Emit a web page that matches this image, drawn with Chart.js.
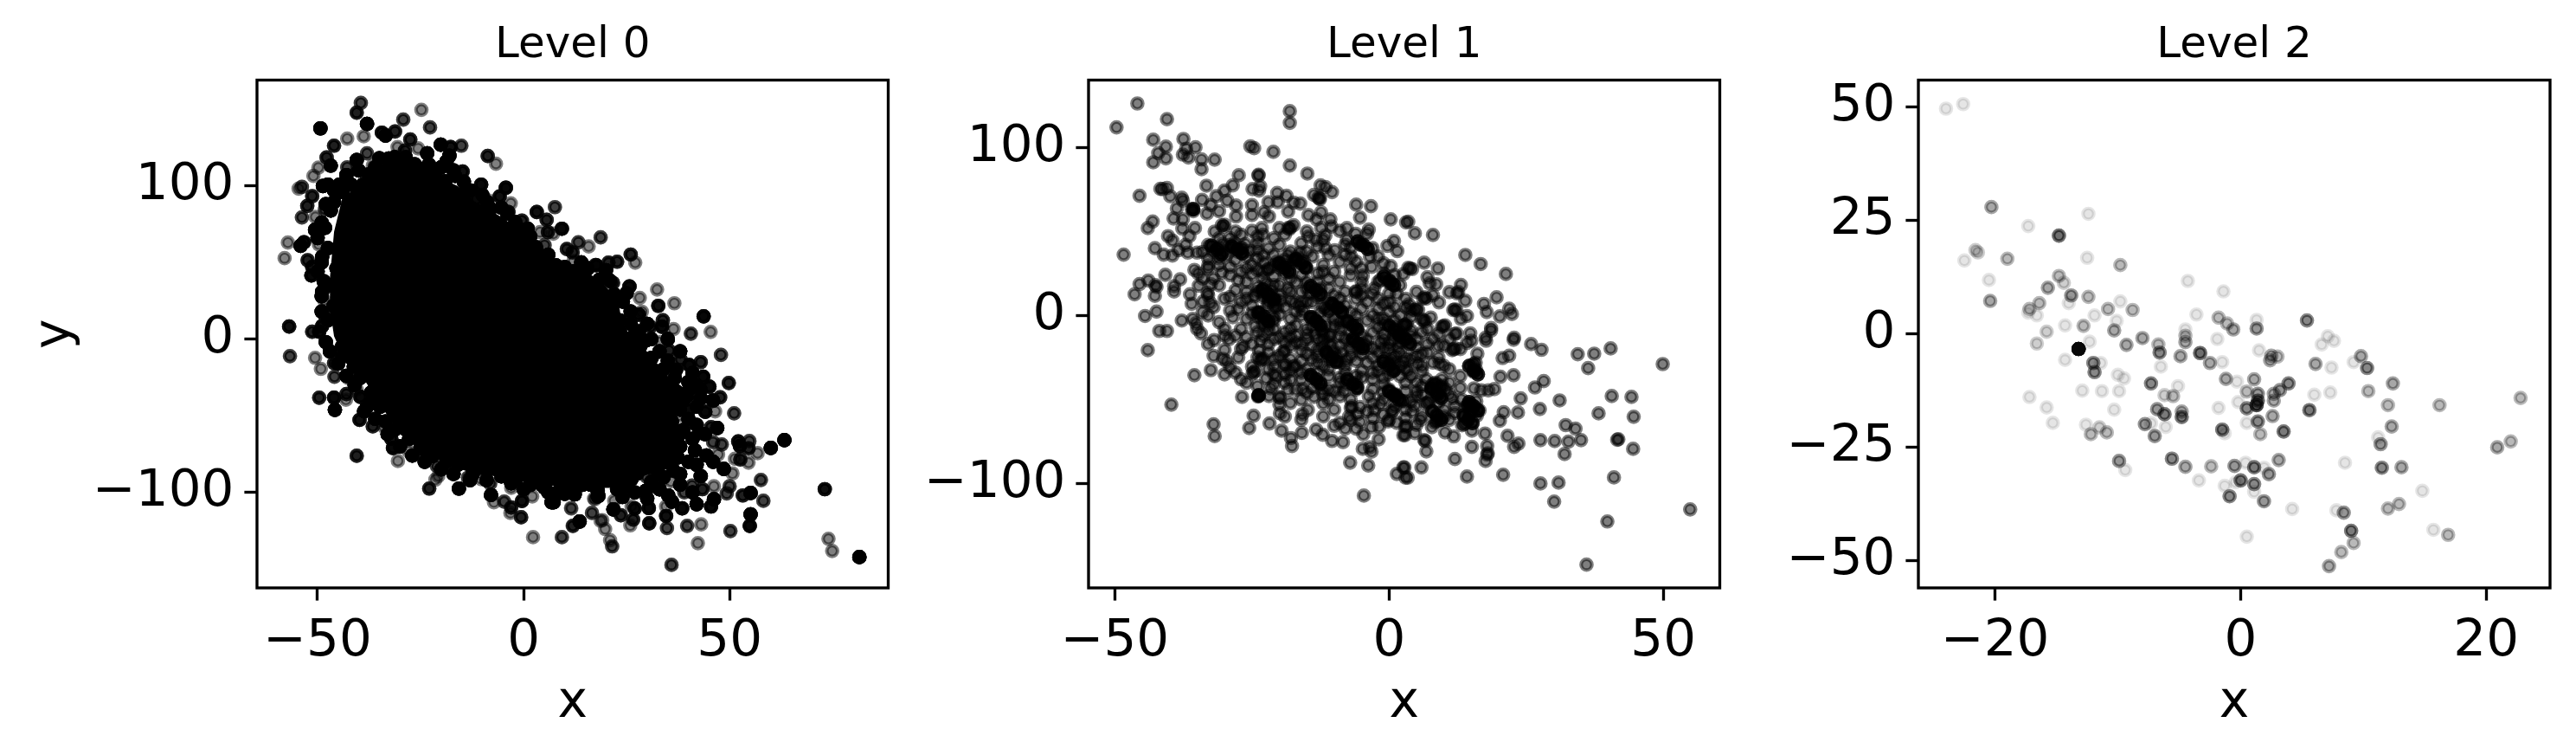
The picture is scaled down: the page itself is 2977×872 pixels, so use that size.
<!DOCTYPE html>
<html>
<head>
<meta charset="utf-8">
<title>Levels</title>
<script src="https://cdn.jsdelivr.net/npm/chart.js@4"></script>
<style>
  html, body { margin: 0; padding: 0; background: #fff; }
  canvas { position: absolute; top: 0; }
</style>
</head>
<body>
<canvas id="c0" width="1060" height="872" style="left:0"></canvas>
<canvas id="c1" width="1000" height="872" style="left:1030px"></canvas>
<canvas id="c2" width="947" height="872" style="left:2030px"></canvas>
<script>
/* values; third number = how many points overlap there */
const titles = ["Level 0", "Level 1", "Level 2"];
const xTicks0 = [-50, 0, 50];
const yTicks0 = [-100, 0, 100];
const xTicks1 = [-50, 0, 50];
const yTicks1 = [-100, 0, 100];
const xTicks2 = [-20, 0, 20];
const yTicks2 = [-50, -25, 0, 25, 50];

/* Level 0 centre is solid black, single points cannot be read there: outline of the black area */
const level0Core = [[-44,92],[-38,104],[-30,113],[-22,107],[-16,100],[-12,90],[-5,79],[2,65],[8,50],[18,40],[23,25],[24,8],[28,-2],[35,-24],[42,-38],[36,-52],[40,-60],[36,-84],[28,-90],[21,-97],[13,-97],[3,-95],[-5,-90],[-12,-88],[-19,-81],[-25,-72],[-30,-62],[-34,-46],[-39,-25],[-44,-10],[-46,2],[-47,20],[-47,40],[-46,70]];

const level0Points = [
[-39.5,154.1,2],[-40.5,147.7,3],[-49.3,137.5,8],[-38,140.4,8],[-29.2,143.2,2],[-24.8,149.6,1],[-22.7,138.1,2],[-42.8,130.8,1],[-38.8,132.3,1],[-34.4,134.7,4],[-33.5,132.8,8],[-31.2,135.5,3],[-27.5,130.2,3],[-46,126.2,3],[-38,121.2,2],[-30.6,125.3,1],[-28.8,123,3],[-25.6,124.4,1],[-20.1,126.8,8],[-15.1,126.2,2],[-17.7,125.3,4],[-23.4,121.2,8],[-18.7,115.9,8],[-18,119.7,8],[-8.7,119.5,3],[-6.7,114.4,1],[-47.8,118.5,3],[-46.8,113.2,8],[-49.8,111.9,1],[-51,106.5,1],[-40.5,116.8,8],[-42.8,112.1,2],[-36.6,113.1,1],[-32.7,117.8,8],[-53.8,99.3,2],[-54.6,98.2,1],[-48.7,99.9,8],[-51.3,93.3,3],[-52.5,86.9,3],[-48.2,84.6,2],[-53.8,79.4,2],[-50.5,79.7,1],[-50.6,71.3,8],[-57.2,63,1],[-58,52.8,1],[-54.1,60.9,8],[-53.3,63.2,5],[-49.7,61.8,1],[-52.4,51.5,3],[-51.5,41.5,5],[-51.3,47.1,4],[-48.5,37.7,8],[-48.9,30.8,8],[-48.4,25.5,1],[-48.4,16.1,3],[-56.9,8.2,4],[-51.3,4.8,3],[-48.9,8.5,5],[-49.6,4.8,5],
[-14.8,109.3,4],[-10.3,100.8,5],[-4.3,98.7,5],[-5.8,93.1,4],[-11.4,91.4,5],[-8.6,90.5,1],[-3.1,88.6,1],[-3.7,82.9,4],[3.2,82.9,4],[7.6,86.1,2],[5.6,77.8,3],[9.3,72,5],[-0.4,77.3,3],[4,69.8,1],[5.9,69.8,3],[7.2,68.8,1],[5.1,61.3,2],[10.5,58.8,3],[13.3,63.2,2],[15.8,60.5,1],[11.9,56.6,3],[12.1,50.9,1],[18.7,66.4,2],[17.7,48.1,3],
[27.1,49.9,1],[26,55.2,3],[22.7,50.5,3],[20.6,49.9,3],[17.5,48.4,3],[21.7,36.7,3],[19.9,36.7,1],[25.7,34.3,5],[32.4,32.4,1],[28.2,26.9,1],[32.7,21.7,4],[36.6,23.4,1],[43.7,14.9,5],[28.7,17.9,1],[28,16,5],[33.8,12.3,3],[36.4,6.6,1],[40.6,3.6,2],[45.4,4.7,1],[33.6,8.1,5],[30.8,8.1,3],[33.2,-1.9,1],[35.3,-7.5,3],[47.9,-10.3,2],[38.1,-13.2,3],[40.2,-16.9,5],[43,-15,3],[43.6,-24.5,5],[45.1,-31,5],[49.8,-28.6,3],[47.7,-38,3],[43,-38.6,8],[44.1,-47.4,5],[46.5,-47.1,1],[51.1,-48.4,2],[45.5,-57.4,3],[42.7,-61.2,8],[37.6,-49.9,1],[37.4,-42.4,8],[40.2,-46.1,5],[46,-67.2,2],[48.1,-68.7,2],[52.1,-66.8,4],[54.8,-66.5,2],[52.5,-69.7,5],[54.6,-71.2,3],[56.8,-74.4,1],[60,-71,8],[63.3,-65.9,8],[51.3,-78.1,1],[52.6,-78.5,3],[54.6,-80.6,1],[41.6,-72.5,8],[44.4,-75.9,8],[47.2,-75.3,1],[48.6,-84.7,8],[50.7,-87.6,1],[43,-89.4,8],[57.6,-91.9,2],[50,-96,2],[46.2,-96,1],[40.9,-95.6,2],[39,-100,2],[43.4,-97.9,3],[35.1,-102,8],[33.2,-93.2,1],[35.8,-92.8,1],[29.9,-89.8,2],[53.2,-102,3],[55.1,-100.4,8],[58.2,-105.5,2],[73.1,-97.9,4],[49.3,-100.7,2],[46.2,-104.5,8],[45.5,-109.2,5],[42,-107.7,8],[38.5,-110.4,5],[34.6,-115.4,4],[34.8,-123.3,2],[30.5,-120.1,4],[39.7,-121.8,2],[43.1,-120.9,1],[50.2,-125.2,2],[55.1,-114.3,8],[54.9,-121.8,5],[42.3,-133.1,1],[35.9,-147.3,2],[74,-130.3,1],[74.9,-138.2,1],[81.5,-142.2,8],[30.4,-110.2,5],[27,-110.5,4],[26.2,-109,1],[23.6,-114.9,3],[21.8,-111.1,8],[26.6,-117.7,3],[25.9,-121.5,1],[19.1,-118.1,1],[19.8,-123.9,1],[21,-131.2,1],[21.5,-135.2,2],[16.6,-113.4,1],[13.6,-119,4],[12,-121.8,2],[9.3,-129.2,1],[11.5,-110.2,1],[12.2,-100.7,5],[18.2,-102.2,5],[17.1,-104,1],[22,-105.5,1],[22.7,-97.9,8],[29.7,-98.9,8],[34.6,-109.2,1],[36.4,-85.7,8],[32.5,-85.7,8],[37.4,-77.2,8],[26.2,-91.3,8],[14.3,-94.1,8],[38.1,-61.2,8],[7.3,-106.4,8],[8.7,-98.9,8],
[-56.7,-11.1,2],[-50.6,-12.2,1],[-49.2,-19.4,1],[-45.9,-24.5,2],[-46,-15.6,3],[-42.6,-25.4,1],[-41.2,-17.9,8],[-49.6,-38.2,3],[-46,-38.2,5],[-45.8,-46.1,8],[-43,-35.8,3],[-43.1,-39.5,1],[-40.5,-32.9,1],[-39.6,-37.7,5],[-39.8,-52.7,4],[-38.7,-47.1,8],[-36.6,-56.9,3],[-33.8,-57.4,1],[-32.1,-65,4],[-31.7,-71,5],[-30.5,-79.5,1],[-27.9,-73.1,1],[-40.5,-76.1,3],[-22.9,-97.5,3],[-15.7,-97.5,8],[-21,-82.9,2],[-20.7,-89.4,1],[-21.4,-91.7,1],[-24,-72.5,8],[-13.5,-90.4,2],[-10.3,-91.3,1],[-7.9,-101.7,8],[-8.1,-94.2,2],[-7.2,-106.4,1],[-4.7,-106,2],[-3,-109.8,3],[-3.2,-113.4,1],[-0.4,-105.6,4],[-0.6,-116.2,3],[-3,-97,1],[2.1,-102.6,1],[2.3,-129.2,1],[9.3,-129.2,1],[6.8,-106.4,8],[8.6,-99.8,8],[12.4,-101.3,8],[11.6,-110.5,1],[16.6,-113.4,1],[13.6,-119,5],[11.9,-121.8,1],[18,-102.6,8],[12.1,-95,1],[17.3,-104.5,1],[18.7,-118.6,1],[14.2,-95.1,8],[4.4,-95.1,8],
/* black fringe where the mass breaks up into single dots */
[-47.5,100.8,8],[-44.7,100.8,8],[-41.9,100.8,8],[-39,100.8,8],[-37.6,107.4,8],[-34.8,107.4,8],[-32,107.4,8],[-28.5,107.4,8],[-25,107.4,8],[-21.5,107.4,8],[-32,114,8],[-29.2,114,8],[-26.4,114,8],[-23,114,8],[-31.3,118.7,8],[-28.6,118.7,8],[-16.6,106.5,8],[-14.5,102.7,8],[-12.8,97,8],[-8.9,89.5,8],[-5.4,85.8,8],[-2,76.3,8],[1.6,66.9,8],[4.4,53.7,8],[7.9,48.1,8],[12.1,44.3,8],[15.6,46.2,8],[18.4,38.7,8],[-46.8,83.9,8],[-48.2,72.6,8],[-47.5,59.4,8],[-48.9,53.7,8],[-45.4,46.2,8],[-46.8,34.9,8],[-46.1,21.7,8],[-47.5,12.3,8],[-46,89.5,8],
[-44,-4.7,8],[-41.9,-12.2,8],[-44,-11.3,8],[-39.7,-25.4,8],[-37,-34.8,8],[-38,-44.2,8],[-34.8,-44.2,8],[-33.5,-53.7,8],[-31.4,-59.3,8],[-27.8,-65,8],[-25,-70.6,8],[-22.2,-76.3,8],[-18.7,-80,8],[-15.9,-81.9,8],[-12.4,-88.5,8],[-8.9,-83.8,8],[-5.4,-89.5,8],[-1.9,-91.3,8],[1.6,-95.1,8],[5.1,-97,8],[9.3,-93.2,8],[14.2,-91.3,8],[17,-85.7,8],
[15,44.3,8],[12.2,40.5,8],[16.4,34.9,8],[22,29.2,8],[24.1,24.5,8],[23.4,12.2,8],[23.4,4.7,8],[26.9,2.8,8],[29.7,-0.9,8],[28.3,-4.7,8],[31.1,-12.2,8],[33.9,-19.8,8],[36.7,-25.4,8],[40.2,-33,8],[35.3,-31,8],[38.1,-41.4,8],[35.3,-48,8],[36,-53.7,8],[38.8,-59.3,8],[36.7,-66.8,8],[33.9,-72.5,8],[31.8,-81.9,8],[27.6,-87.6,8],[24.1,-97,8],[20.6,-91.3,8],[16.4,-95.1,8],[11.5,-98.9,8],[15,-89.4,8],
[-43,107,8],[-40,110,8],[-36,112,8],[-33,111,8],[-35,118,8],[-27,112,8],[-24,111,8],[-20,112,8],[-17,110,8],[-19,103,8],[-14,97,8],[-10,94,8],[-8,85,8],[-4,82,8],[-1,72,8],[1,72,8],[3,60,8],[6,55,8],[10,47,8],[14,50,8],[20,45,8],[21,38,8],[25,30,8],[26,18,8],[26,10,8],[28,5,8],[31,0,8],[33,-8,8],[35,-14,8],[37,-20,8],[40,-28,8],[43,-33,8],[42,-44,8],[38,-46,8],[40,-52,8],[42,-56,8],[41,-65,8],[38,-70,8],[37,-76,8],[40,-80,8],[38,-88,8],[34,-90,8],[31,-93,8],[25,-93,8],[18,-99,8],[10,-101,8],[6,-100,8],[0,-98,8],[-3,-94,8],[-9,-92,8],[-13,-92,8],[-17,-88,8],[-20,-85,8],[-24,-80,8],[-27,-76,8],[-30,-70,8],[-33,-62,8],[-36,-52,8],[-37,-41,8],[-41,-30,8],[-43,-24,8],[-45,-16,8],[-47,-8,8],[-48,-2,8],[-49,18,8],[-49,28,8],[-50,44,8],[-49,50,8],[-50,66,8],[-49,76,8],[-48,88,8],[-46,97,8],[-44,96,8],
[38,-95,8],[42,-82,8],[46,-80,8],[44,-62,8],[47,-58,8],[41,-100,8],[33,-98,8],[30,-104,8],[36,-106,8],[24,-103,8],[27,-100,8],[30,10,8],[35,0,8],[38,-8,8],[41,-22,8],[46,-40,8],[42,-30,8]
];

const level1Points = [
[-45.9,126.1],[-49.7,111.9],[-40.5,116.8],[-18.1,121.5],[-18.1,114.6],[-43,104.5],[-37.5,105],[-40.7,100.4],[-35.3,100],[-42.1,96.6],[-43,91.1],[-40.7,93.5],[-37.6,95.7],[-36.6,94],[-37,99.2],[-34.2,92.8],[-31.8,92.7],[-34.2,87],[-25.3,100.6],[-24.6,99.5],[-21.1,97.3],[-18.1,89.2],[-14.9,84.4],[-27.4,83.4],[-23.8,83.7],[-23.8,83.2],[-33.3,77.2],[-28.5,77.4],[-30,74.3],[-24.9,75.2],[-23.5,76.9],[-23.7,74.3],[-41.7,75.3],[-40.5,75.8],[-41.3,75.2],[-45.5,71.2],[-39.9,70.9],[-37.8,70],[-37.6,68.3],[-34.1,68.8],[-31.5,70.9],[-36,63.2],[-35.7,62],[-32.5,65.7],[-33.2,60.6],[-31,62],[-29.5,68.3],[-27.9,65.4],[-38.7,63.7],[-39.3,57.7],[-37.6,57.2],[-43.1,55.9],[-44,52],[-35.4,52],[-37.7,51.7],[-40.3,47.2],[-39.5,44.6],[-36.4,47.2],[-37.1,42],[-38.4,38.8],[-42.7,40],[-41.1,36.2],[-39.5,35.7],[-36.7,37.4],[-35,37.4],[-34,37.8],[-48.4,36.2],[-35.5,27.1],[-33,29.7],[-40.8,24.2],[-43.9,20.8],[-45.5,18.7],[-42.6,18],[-42.4,17],[-38.1,21.5],[-39.2,17.4],[-39.2,14.3],[-46.4,12.6],[-42.7,11.7],[-36.3,12.6],[-34.7,17.7],[-33.1,13.4],[-33.9,8.3],[-32.6,7.4],[-44.5,-0.3],[-42.4,2.3],[-37.8,-3],[-35.8,-2],[-35.2,-4.6],[-41.9,-9.2],[-40.5,-9.2],
[-20.4,72.9],[-18.7,71.2],[-20.3,67.4],[-22,67.4],[-17.4,67.1],[-16.2,66.6],[-18.4,61.8],[-25,65.7],[-12.5,77.4],[-11.6,76.4],[-10.4,73.4],[-13.7,71.7],[-12.9,70],[-12.7,69.6],[-12.6,69.2],[-6,65.9],[-3.3,65],[-5.3,58.2],[-12.4,61.4],[0.3,57.2],[3.1,55.4],[-22.8,61.4],[-21.9,58.9],[-25,59.7],[-10.7,57.2],[-14.7,59.7],[-13.2,57.2],[-7.7,52],[-9,50.3],[-3.7,51.1],[-4,48.6],[-6.1,48.6],[-7.7,45.1],[-5.2,42.2],[-5.1,41.8],[-0.3,41.4],[0.9,44.3],[1.5,38.3],[-10.5,52.9],[-12.4,52],[-11.6,47.7],[-14.7,46.9],[-13.4,45.1],[-11.6,40],[-9.9,38.8],[-6.9,34.9],[-3.5,34.9],[-3.2,28.9],[0.3,29.4],[-4.8,23.7],[2.6,24.6],[-1.6,21.1],[0,19.4],[0.3,19],[1.4,12.9],[-2.7,16],[-6.1,14.3],[3.1,4.8],[-30.5,53.7],[-30.2,52.8],[-30,54],[-31.8,49.9],[-18.4,52],[-18.2,51.4],[-18,52.4],[-17.4,53.7],[-20,52],[-27.9,58.9],[-25,50.3],[-23.2,52],
[-44,-20.6],[-35.5,-35.5],[-32.5,-32.5],[-39.7,-53],[-32,-64.7],[-31.8,-71.7],[-24.7,-59.6],[-25.5,-66.9],[-21.8,-64.2],[-19.6,-68.5],[-26.8,-48.4],[-23.8,-47.9],[-23.7,-47.5],[-23.9,-48.2],[-19.9,-48.9],[-20,-48.5],[-21.9,-47.9],[-21.6,-43.3],[-19.9,-58.2],[-19,-60.1],[-15.8,-58.7],[-14.8,-56.1],[-17.9,-72.9],[-17.7,-77.6],[-15.9,-69.8],[-13.3,-67.8],[-12.1,-70.9],[-10.4,-74.6],[-8.4,-75.3],[-10,-65.6],[-9,-63.8],[-8,-67.3],[-12,-52.2],[-13.7,-48.4],[-7.3,-60.1],[-6.8,-54.1],[-6,-67.3],[-5.3,-63.3],[-4.7,-70.7],[-3.2,-66.4],[-1.8,-66.1],[-1.9,-73.6],[-3.2,-81],[-3.5,-78.4],[-4.8,-79.3],[-7.1,-87.5],[-3.8,-89.2],[-4.6,-107.1],[1.4,-94.2],[2.6,-90.4],[3,-96.4],[-0.2,-63],[1.4,-63.8],[2.9,-66.1],[2.6,-71.2],[-2.7,-56.1],[-1.6,-52.7],[0.5,-57],[0.7,-56.5],[-5.3,-54.4],[-5.8,-58.7],[0.9,-47.2],[1.1,-46.8],[0.7,-47.5],[1.3,-47.6],[2.3,-51],[-1.1,-45.8],[-3.7,-47.9],[-8.2,-45],[-9.9,-45],[-12.1,-44.1],[-15.8,-43.8],[-18.4,-44.1],[-19.3,-21.5],[-19,-28.7],[-30,-20.5],[-30.3,-25.8],[-29.6,-27.3],[-27.5,-24.9],[-31.9,-14.6],[-34.3,-10.7],[-29.2,-14.1],[-26.6,-18.4],[-23.4,-15],[-24.7,-33.8],[-24.4,-33],[-24.9,-34.5],[-22.4,-37.3],[-20.5,-36.4],[-23.2,-26.1],[-23,-25.6],[-23.5,-26.8],[-25,-30.4],[-23.7,-21],[-17.4,-30.4],[-17.1,-30],
[3.5,55.8],[4.7,48.9],[8,47.9],[13.9,36],[16.7,30.6],[21.3,24.7],[8.9,28],[6.4,31.4],[3.8,28],[3.5,28.4],[4.2,27.6],[8.6,18.6],[7.4,19.1],[7,22.8],[13.1,18.2],[11,13.9],[12.6,13.9],[12.4,13.2],[13.9,8.8],[9.1,7.8],[6.5,10.8],[6.2,10.2],[6.8,10],[17.3,6.9],[19.6,10.8],[17.8,2.1],[20.2,-0.5],[21.9,4],[22.4,0.9],[14.2,-0.3],[12,3.6],[11.7,3.2],[12.3,3],[13.1,-2],[5,4],[5.3,3.4],[4.7,3.2],[3.6,6.6],[6.3,-2.9],[6,-2.3],[6.6,-3.4],[9.9,-6.3],[9.6,-6.8],[10.2,-5.9],[12.3,-10.6],[12,-11],[14.8,-10.6],[18.6,-7.5],[7.6,-1.2],[2.9,-5.5],[2.6,-6],[3.2,-5],[22.8,-13.2],[17.6,-13.2],
[18.6,-9],[22.7,-14.4],[17.7,-15],[25.9,-17],[27.8,-20.4],[34.4,-23],[37.4,-22.7],[40.4,-19.6],[36.3,-31.3],[49.9,-28.9],[20.7,-25.3],[21.9,-23.9],[20.3,-36.4],[22.7,-35.5],[28.2,-39],[26.6,-42.8],[24,-49.3],[31.1,-50.5],[27.5,-55.6],[23.5,-57.7],[20.9,-57.5],[20.2,-62.6],[40.6,-47.9],[44.2,-48.4],[38.2,-58.2],[44.6,-60.2],[32.2,-65.2],[34,-67.3],[35,-74.1],[32.7,-75],[30.2,-74.7],[27.6,-74.1],[32,-82.4],[41.8,-73.6],[41.6,-73.9],[44.5,-79.3],[21.6,-71.6],[23.6,-76.2],[22.8,-78.1],[17.5,-70.2],[15.1,-78.1],[17.9,-77.6],[17.9,-82.7],[18,-82],[17.6,-86.5],[12,-85.3],[6.8,-80.8],[6.4,-74.1],[6.6,-74.6],[5.9,-90.4],[2.8,-90.4],[3.4,-96.4],[14.2,-95.8],[20.8,-94.7],[27.6,-99.9],[30.9,-99.4],[30.1,-110.7],[41,-96.3],[39.8,-122.5],[54.9,-115.3],[36,-148.2],[15,-15],[16.1,-22.7],[15.5,-28.7],[15.2,-29.4],[15.8,-28],[15.7,-33],[15.4,-33.6],[15.9,-32.4],[14.2,-16.3],[11.8,-20.1],[11.5,-20.6],[12.1,-19.6],[6,-33],[5,-39.8],[8.1,-40.7],[7.8,-41.4],[8.4,-40],[9.4,-42.4],[9.1,-43],[9.7,-41.8],[8.9,-46.7],[8.6,-47.4],[9.2,-46],[7,-51.8],[6.7,-52.4],[7.3,-51.2],[11.5,-49.3],[15.5,-43.3],[16.8,-44.5],[19.2,-43.8],[18.1,-44.5],[14.4,-53.6],[14.1,-54.2],[14.7,-53],[14.4,-52.8],[14.9,-57.8],[14.6,-58.4],[15.2,-57.2],[16,-59.6],[13.6,-64.7],[13.3,-65.3],[13.9,-64.1],[8.6,-63],[8.3,-63.6],[8.9,-62.4],[7.8,-66.4],[5.7,-62.1],[4.2,-57],[4.7,-53.6],[10.2,-69.5],[11.8,-71.9],[15.1,-68.5],[4.7,-69.9],[2.9,-71.2],[3.1,-65.6],[2.8,-51],[5.2,-28.7],[9.2,-28.7],
[-29,42],[-27,40],[-30,38],[-26,35],[-28,33],[-31,30],[-24,43],[-22,40],[-23,36],[-20,42],[-18,38],[-25,30],[-22,28],[-27,26],[-20,30],[-17,33],[-19,25],[-23,22],[-26,20],[-29,24],[-31,18],[-28,15],[-24,14],[-21,18],[-20,12],[-22,8],[-25,6],[-19,5],[-17,20],[-15,28],[-14,35],[-12,30],[-16,14],[-13,20],[-10,26],[-9,32],[-7,28],[-11,16],[-14,8],[-18,-2],[-21,-3],[-23,-5],[-26,-2],[-29,3],[-32,5],[-31,-4],[-33,12],[-30,10],[-27,8],[-16,0],[-12,5],[-9,10],[-6,14],[-4,8],[-2,10],[-7,2],[-10,-2],[-13,-4],[-15,-8],[-17,-12],[-19,-10],[-21,-14],[-12,-10],[-9,-8],[-6,-5],[-3,0],[0,2],[1,-3],[3,-6],[-2,-7],[-5,-12],[-8,-14],[-11,-16],[-14,-18],[-16,-21],[-13,-24],[-10,-22],[-7,-20],[-4,-18],[-1,-14],[1,-11],[3,-15],[5,-19],[2,-22],[0,-20],[-3,-25],[-6,-27],[-9,-28],[-12,-30],[-15,-32],[-14,-26],[-11,-36],[-8,-34],[-5,-33],[-2,-30],[1,-28],[3,-32],[4,-26],[0,-35],[-3,-38],[-6,-40],[-16,-38],[-18,-33],[-20,-24],[-22,-32],
[-22,12.5],[-21.5,15],[-23,11],[-20.8,10],[-24,17],[-22.4,19],[-21,5],[-23.5,2],[-12.3,-8.8],[-11.5,-6],[-13.4,-11],[-14,-6.5],[-10.7,-12],[-9.4,-24.8],[-8.6,-22],[-10.6,-27],[-11.7,-21],[-7.8,-26.5],[-4.7,-16.8],[-4,-14.5],[-5.6,-19],[-3,-19.5],[-6.3,-15],[0,-17],[0.8,-14.5],[-0.9,-19.5],[1.6,-19],[-1.6,-16],[2,-30],[2.8,-27.5],[1,-32],[3.5,-33],[0.5,-26],[8.7,-40.8],[9.6,-38],[7.8,-43],[10.3,-44],[6.8,-38],[15.3,-54],[15.9,-51],[14.6,-56],[13.2,-50],[16.5,-56.5],
[-16,-17],[-18,-18],[-13,-14],[-16,-27],[-19,-16],[-22,-22],[-24,-10],[-27,-8],[-28,-12],[-26,-13],[-21,-8],[-17,-6],[-14,-1],[-11,3],[-8,6],[-5,4],[-2,4],[-16,8],[-18,14],[-26,14],[-29,11],[-32,22],[-33,28],[-29,46],[-27,48],[-24,47],[-21,46],[-16,43],[-13,25],[-9,20],[-5,20],[-1,25],[-2,35],[-7,40],[2,18],[5,14],[8,12],[3,10],[0,8],[-1,-2],[6,-10],[8,-14],[5,-14],[9,-18],[11,-14],[13,-20],[4,-9],[8,-28],[11,-32],[13,-36],[11,-40],[13,-43],[5,-45],[3,-40],[-1,-41],[-9,-40],[-13,-40],[-15,-46],[-19,-40],[-21,-30],[-26,-40],[-28,-34],[-30,-35],[-18,-52],[-12,-60],[-10,-56],[-7,-50],[-3,-52],[-1,-59],[3,-56],[6,-60],[10,-56],[11,-62],[-16,-62],[-20,-53],
/* dense centre, estimated from the darkest clumps */
[-26.8,40],[-26.2,42.5],[-27.6,38],[-25.4,38.4],[-28.2,43],[-31,40],[-30.4,42.6],[-32,37.6],[-29.6,36],[-33,34],[-21,29.7],[-20.4,32],[-22,27.4],[-19.6,27.6],[-22.8,31.5],[-16.8,34.9],[-16.2,37.5],[-17.6,32.6],[-15.5,32],[-18.5,36],[-22.6,12.6],[-22,10.2],[-23.4,14.6],[-24.6,11.5],[-21,7.4],[-20.4,4.8],[-22.2,5.4],[-19.6,9],[-16.3,5.7],[-15.7,3],[-17.2,7.6],[-15,8],[-11.6,4],[-11,1.4],[-12.6,1.6],[-10.2,6],[-22.6,-2.9],[-22,-5.6],[-23.8,-1],[-21,-1],[-24.4,-6.5],
[-34,22],[-32.5,18.5],[-34.8,25],[-30.5,25.5],[-27.5,21],[-25,24.5],[-24,27],[-21,23],[-18,22],[-15,20],[-12.5,16],[-14.5,13],[-18.5,16],[-26,10],[-27.5,4],[-28.5,-1],[-30,-8],[-25,1],[-20,0.5],[-17,2],[-13.5,-2],[-12,-14],[-10,-6],[-8,-4],[-6,-8],[-4,-3],[-2,-2],[-1,-5],[1,-7],[2,-10],[-3,-10],[-7,-10],[-9,-12],[-10.5,-18],[-13,-20.5],[-15,-14],[-18,-8],[-20,-13],[-23,-12],[-25,-17],[-22,-17],[-19,-21],[-18,-26],[-13,-28],[-11,-24],[-7,-24],[-5,-23],[-2,-22],[-1,-26],[-4,-28],[-8,-30],[-11,-32],[-13,-34],[-16,-34],[-19,-30],[-21,-35],[-18,-38],[-14,-37],[-9,-37],[-6,-36],[-3,-34],[-1,-37],[2,-36],[4,-36],[6,-30],[5,-24],[7,-22],[9,-25],[10,-30],[6,-42],[5,-48],[3,-45],[0,-44],[-3,-44],[-6,-44],[-9,-48],[-12,-47],[-16,-50],[-7,-55],[-4,-57],[-1,-50],[1,-54],[4,-51],[6,-47],[9,-52],[11,-47],[12,-54],[12,-58],[10,-60],[5,-65],[3,-61],[0,-62],[-3,-61],[-7,-62],[-11,-50],
[-6,10],[-8,14],[-10,12],[-5,16],[-3,13],[0,13],[-1,7],[1,5],[4,3],[4,-1],[2,0],[-1,-11],[2,-16],[4,-12],[7,-8],[9,-11],[10,-18],[7,-17],[6,-23],[3,-25],[1,-24],[0,-28],[-7,-16],[-9,-18],[-2,-33],[-5,-37],[-8,-41],[-11,-44],[-14,-43],[-17,-44],[-21,-41],[-24,-42],[-27,-38],[-29,-31],[-32,-24],[-33,-17],[-35,-8],[-33,0],[-36,7],[-34,2],[-30,-12],[-27,-20],[-24,-25],[-21,-26],[-19,-35],[-15,-23],[-12,-18],[-17,-16],[-15,-11],[-11,-12],[-9,-4],[-6,0],[-11,8],[-13,11],[-15,16],[-18,9],[-24,2],[-22,-9],[-18,-13],[-20,18],[-23,26],[-26,28],[-29,29],[-31,34],[-24,34],[-21,36],[-19,33],[-15,38],[-13,41],[-11,36],[-8,36],[-6,32],[-5,28],[-7,24],[-11,22],[-12,26],[-16,24],[-18,29],[-24,39],[-33,42],[-31,46],[-28,50],[-23,48],[-19,48],[-15,50],[-12,45],[-8,42],[-3,40],[-1,31],[1,24],[-2,20],[-5,12],[-9,4],
/* black clumps, several points on top of each other */
[-27.6,39.2,3],[-26.8,37,3],[-28.6,41,3],[-31.4,39.2,3],[-30.6,36.5,3],[-32.4,41.5,3],[-22.8,-0.8,3],[-22,-3.5,3],[-23.8,1.5,3],[-19,28.5,3],[-18.2,26,3],[-20,31,3],[-16,31,3],[-15.2,28.5,3],[-17,33.5,3],[-13.3,-3.5,3],[-12.5,-6,3],[-14.3,-1,3],[-10.4,-24.8,3],[-9.6,-27.5,3],[-11.4,-22,3],[-5.6,-16.8,3],[-4.8,-19.5,3],[-6.6,-14,3],[-4.7,41.9,3],[-3.9,39.5,3],[-5.7,44,3],[0.1,20.5,3],[0.9,18,3],[-0.9,23,3],[1,-8.8,3],[1.8,-11.5,3],[0,-6,3],[3,-14,3],[3.8,-17,3],[2,-12,3],[0,-30,3],[0.8,-33,3],[-1,-27.5,3],[1,-47.5,3],[1.8,-50,3],[0,-45,3],[8.7,-46,3],[9.5,-49,3],[7.7,-43.5,3],[15.4,-32.8,3],[14.6,-30,3],[16.2,-35,3],[15.4,-54,3],[14.6,-51.5,3],[16.2,-56.5,3],[14.4,-62,3],[13.6,-59.5,3],[15.2,-64,3],[8.7,-59.5,3],[7.9,-57,3],[9.5,-62,3],[-23.8,-47.5,3],[-35.7,63.2,3],[-13.3,-38,3],[-12.5,-40.5,3],[-14.3,-35.5,3],[-6.6,-40.8,3],[-5.8,-43,3],[-7.6,-38,3],[-13.3,15,3],[-12.5,12.5,3],[-14.3,17.5,3],[-9.4,4.5,3],[-8.6,2,3],[-10.4,7,3],[-6.6,-6,3],[-5.8,-8.5,3],[-7.6,-3.5,3],[-22,12.5,3],[-21,9.5,3],[-23,15.5,3]
];

const level2Points = [
[-24,49.7,1],[-22.6,50.7,1],[-22.5,16.2,1],[-17.3,23.8,1],[-12.4,26.5,1],[-12.5,16.8,1],[-20.5,11.9,1],[-4.3,11.7,1],[-1.4,9.4,1],[-9.8,7.2,1],[-14,6.8,1],[-3.6,4.3,1],[1.3,3.1,1],[-10.1,2.9,1],[-16.6,4.1,1],[-17.3,4.7,1],[-11.9,4.1,1],[-14.3,1.9,1],[-4.5,1,1],[-1.9,-1.1,1],[-12.3,-1.7,1],[7.1,-0.5,1],[7.6,-1.5,1],[6.6,-2.3,1],[1.5,-3.6,1],[-14.3,-5.7,1],[-11.4,-6.4,1],[-1.5,-6.2,1],[9.2,-6.2,1],[-6.5,-7.2,1],[7.4,-7.4,1],[-10,-9,1],[-9.5,-9.8,1],[-0.3,-10.5,1],[-5.1,-11.5,1],[-12.9,-12.5,1],[-11.3,-12.6,1],[-9.9,-12.6,1],[6,-13.4,1],[7.3,-12.9,1],[-17.2,-13.9,1],[-0.2,-15,1],[-10.3,-16.7,1],[-15.8,-16.2,1],[-1.8,-16.3,1],[-15.3,-19.6,1],[-12.6,-20,1],[-7.3,-19.7,1],[-6.1,-20.5,1],[0.5,-19.6,1],[-1.3,-21.9,1],[11.2,-22.8,1],[-9.4,-30,1],[8.5,-28.4,1],[0.4,-28.4,1],[1.9,-29.5,1],[-3.4,-32.3,1],[-1.3,-33.5,1],[-0.4,-32.7,1],[1.1,-34.8,1],[14.8,-34.6,1],[4.2,-38.6,1],[7.8,-38.9,1],[0.5,-44.7,1],[15.7,-43.2,1],
[-21.6,18.5,2],[-21.4,18,2],[-19,16.6,3],[-14.4,11.3,2],[-17.2,5.5,3],[-16.6,-2.1,2],[-15.8,0.5,2],[-12.8,1.8,3],[-10.8,5.5,3],[-8.8,5.3,3],[-12.4,8.2,3],[-16.4,6.8,3],[-14.8,12.8,3],[-9.8,15.2,3],[-20.3,28,4],[-20.4,7.3,4],[-15.7,10.2,4],[-13.8,8.5,5],[-10.3,0.8,4],[-9.3,-2.4,4],[-6.7,-2.3,3],[-8,-0.9,4],[-4.5,-0.4,3],[-4.5,-1.8,4],[-1.8,3.6,3],[-1.1,2.3,3],[-0.6,1,4],[1.3,1.2,5],[3,-5,3],[2.5,-4.8,4],[2.4,-5.8,4],[-2.5,-6.4,4],[-4.9,-4.9,4],[5.4,3,6],[6.1,-6.6,4],[9.8,-4.9,4],[10.3,-7.5,6],[12.4,-10.9,4],[10.4,-12.6,3],[12,-15.7,3],[16.2,-15.7,3],[22.8,-14.1,3],[12.3,-20.4,4],[11.4,-24.3,5],[11.5,-29.5,6],[13.1,-29.4,4],[20.9,-25,4],[22,-23.7,3],[12.9,-37.5,3],[12,-38.5,3],[8.4,-39.4,5],[9,-43.4,7],[9.2,-46.1,3],[8.2,-48.1,3],[7.2,-51.2,4],[16.9,-44.3,3],[3.1,-27.8,4],[2.3,-30.9,5],[-0.5,-29.1,5],[-2.4,-29.2,3],[-4.5,-29.3,4],[-5.6,-27.5,6],[-9.9,-28,5],[-12.2,-22.1,3],[-11.5,-20.6,2],[-10.9,-21.7,3],[-7.8,-19.9,5],[-7,-22.5,5],[-6.8,-16.6,5],[-6.2,-17.7,7],[-4.8,-18.3,7],[-4.8,-17.1,4],[-6.2,-13.5,2],[-5.5,-13.7,3],[-7.3,-10.9,6],[-1.2,-9.9,4],[1.1,-10,4],[0.5,-12.7,3],[1.4,-13.2,5],[3.2,-12.4,5],[3.9,-10.9,6],[2.7,-13.2,4],[2.7,-14.7,4],[2.6,-18.1,4],[1.4,-19.3,6],[3.5,-21.5,7],[1.6,-22.1,3],[-1.5,-21.1,7],[0.5,-16.4,6],[1.3,-15.7,12],[1.4,-14.7,8],[5.6,-16.8,7],[1.1,-29.4,7],[0,-32.3,7],[-0.9,-35.8,6],[1.9,-36.9,5],[1.1,-33.1,6],[-6.6,-4.1,6],[-12,-6.4,6],[-11.9,-8.4,6],[-3.3,-4.2,8],[-14.8,21.7,8],[-13.2,-3.3,40]
];

const fontFamily = "'DejaVu Sans'";

function repetir(puntos) {
    const salida = [];
    puntos.forEach(p => {
        const n = p.length > 2 ? p[2] : 1;
        for (let i = 0; i < n; i++) salida.push({ x: p[0], y: p[1] });
    });
    return salida;
}

function etiqueta(v) {
    return v < 0 ? "\u2212" + Math.abs(v) : String(v);
}

const marco = {
    id: "marco",
    afterDatasetsDraw(chart) {
        const a = chart.chartArea;
        const ctx = chart.ctx;
        ctx.save();
        ctx.strokeStyle = "#000";
        ctx.lineWidth = 3.33;
        ctx.strokeRect(a.left, a.top, a.right - a.left, a.bottom - a.top);
        ctx.restore();
    }
};

function crearPanel(cfg) {
    const ejeX = {
        type: "linear", min: cfg.xMin, max: cfg.xMax,
        afterFit: s => { s.height = 193; },
        afterBuildTicks: s => { s.ticks = cfg.xTicks.map(v => ({ value: v })); },
        grid: { drawOnChartArea: false, tickLength: 14.6, tickWidth: 3.33, tickColor: "#000" },
        border: { display: false },
        ticks: { color: "#000", padding: 12, autoSkip: false, minRotation: 0, maxRotation: 0,
                 font: { family: fontFamily, size: 59.5 }, callback: etiqueta },
        title: { display: true, text: "x", color: "#000",
                 font: { family: fontFamily, size: 58.3, lineHeight: 1 },
                 padding: { top: 0, bottom: 30 } }
    };
    const ejeY = {
        type: "linear", min: cfg.yMin, max: cfg.yMax,
        afterFit: s => { s.width = cfg.ejeAncho; },
        afterBuildTicks: s => { s.ticks = cfg.yTicks.map(v => ({ value: v })); },
        grid: { drawOnChartArea: false, tickLength: 14.6, tickWidth: 3.33, tickColor: "#000" },
        border: { display: false },
        ticks: { color: "#000", padding: 12, autoSkip: false, minRotation: 0, maxRotation: 0,
                 font: { family: fontFamily, size: 59.5 }, callback: etiqueta },
        title: { display: !!cfg.yTitulo, text: "y", color: "#000",
                 font: { family: fontFamily, size: 58.3, lineHeight: 1 },
                 padding: { top: 36, bottom: 0 } }
    };
    const datasets = [];
    if (cfg.nucleo) {
        datasets.push({
            data: cfg.nucleo.map(p => ({ x: p[0], y: p[1] })),
            showLine: true, fill: "shape", backgroundColor: "#000",
            borderWidth: 0, pointRadius: 0, tension: 0
        });
    }
    datasets.push({
        data: repetir(cfg.puntos),
        backgroundColor: `rgba(0,0,0,${cfg.alpha})`,
        borderColor: `rgba(0,0,0,${cfg.alpha})`,
        borderWidth: 4.17, pointRadius: 6.25, pointHoverRadius: 6.25
    });
    return new Chart(document.getElementById(cfg.id), {
        type: "scatter",
        data: { datasets },
        plugins: [marco],
        options: {
            responsive: false, animation: false, devicePixelRatio: 1,
            layout: { padding: { left: 0, right: cfg.margenDer, top: 0, bottom: 0 } },
            plugins: {
                legend: { display: false }, tooltip: { enabled: false },
                title: { display: true, text: cfg.titulo, color: "#000", fullSize: false,
                         font: { family: fontFamily, size: 50, weight: "normal", lineHeight: 1 },
                         padding: { top: 28, bottom: 14.5 } }
            },
            scales: { x: ejeX, y: ejeY }
        }
    });
}

crearPanel({ id: "c0", titulo: titles[0], puntos: level0Points, nucleo: level0Core, alpha: 0.5,
    xMin: -64.7, xMax: 88.5, yMin: -162.3, yMax: 169, xTicks: xTicks0, yTicks: yTicks0,
    ejeAncho: 297, margenDer: 33.5, yTitulo: true });
crearPanel({ id: "c1", titulo: titles[1], puntos: level1Points, alpha: 0.5,
    xMin: -54.8, xMax: 60.3, yMin: -162, yMax: 140, xTicks: xTicks1, yTicks: yTicks1,
    ejeAncho: 228, margenDer: 42.5 });
crearPanel({ id: "c2", titulo: titles[2], puntos: level2Points, alpha: 0.1,
    xMin: -26.25, xMax: 25.2, yMin: -56, yMax: 56, xTicks: xTicks2, yTicks: yTicks2,
    ejeAncho: 187, margenDer: 30 });
</script>
</body>
</html>
